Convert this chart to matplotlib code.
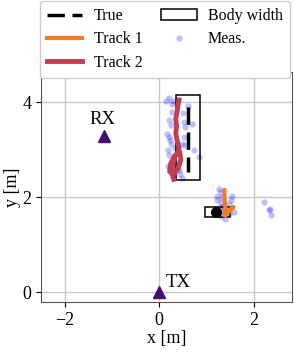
import numpy as np
import matplotlib
matplotlib.use("Agg")
import matplotlib.pyplot as plt
from matplotlib.patches import Rectangle

plt.rcParams["font.family"] = ["Liberation Serif", "DejaVu Serif"]
plt.rcParams["font.size"] = 13

# antennas
tx = (0.0, 0.0)
rx = (-1.17, 3.3)

# true target 1 (walking) and target 2 (standing)
true1_x = [0.62, 0.62]
true1_y = [3.9, 2.53]
true2 = (1.2, 1.69)

# body width boxes: (x0, y0, w, h)
body1 = (0.35, 2.37, 0.52, 1.78)
body2 = (0.96, 1.58, 0.53, 0.21)

# tracks
track1_x = [1.38, 1.38, 1.39, 1.40, 1.38, 1.40, 1.50, 1.57, 1.48, 1.42, 1.40]
track1_y = [2.15, 2.02, 1.90, 1.78, 1.68, 1.64, 1.72, 1.80, 1.73, 1.68, 1.62]

track2_x = [0.42, 0.40, 0.38, 0.35, 0.37, 0.35, 0.38, 0.42, 0.40, 0.31, 0.24,
            0.22, 0.29, 0.40, 0.46, 0.43, 0.34, 0.29, 0.27, 0.31]
track2_y = [4.05, 3.95, 3.80, 3.65, 3.50, 3.35, 3.20, 3.05, 2.95, 2.85, 2.70,
            2.55, 2.48, 2.60, 2.80, 2.97, 2.88, 2.72, 2.52, 2.38]

# radar measurements
meas_x = [0.15, 0.21, 0.27, 0.30, 0.27, 0.62, 0.20, 0.25, 0.50, 0.70, 0.16,
          0.21, 0.52, 0.48, 0.55, 0.73, 0.84, 0.21, 0.18, 0.41, 0.45, 0.30,
          0.48, 0.23, 0.26, 0.52, 0.55, 0.33, 0.19, 0.40,
          1.26, 1.30, 1.23, 1.33, 1.23, 1.31, 1.55, 1.51, 1.47, 1.40, 1.33,
          1.30, 1.40, 1.47, 1.58, 1.36, 1.28,
          2.22, 2.34, 2.33, 2.36]
meas_y = [4.03, 4.10, 3.97, 4.04, 3.80, 3.92, 3.62, 3.52, 3.77, 3.55, 3.34,
          3.27, 3.27, 3.13, 3.10, 2.99, 2.85, 2.89, 2.67, 2.57, 2.50, 2.44,
          2.41, 3.20, 3.13, 3.59, 3.48, 3.05, 3.00, 2.75,
          2.18, 2.11, 2.04, 2.01, 1.94, 1.90, 2.04, 1.94, 1.87, 1.76, 1.69,
          1.62, 1.55, 1.66, 1.69, 1.82, 1.80,
          1.90, 1.76, 1.73, 1.64]

fig = plt.figure(figsize=(2.94, 3.52), dpi=100)
ax = fig.add_axes([41 / 294, 50 / 352, 251 / 294, 230 / 352])

ax.plot(meas_x, meas_y, "o", color="blue", alpha=0.25, markersize=4.5,
        markeredgewidth=0, label="Meas.", zorder=2)

for (x0, y0, w, h), lab in [(body1, "Body width"), (body2, None)]:
    ax.add_patch(Rectangle((x0, y0), w, h, fill=False, edgecolor="black",
                           linewidth=1.1, label=lab, zorder=3))

ax.plot(true1_x, true1_y, "--", color="black", linewidth=2.5,
        dashes=(5, 2.2), label="True", zorder=4)
ax.plot(*true2, "o", color="black", markersize=7, zorder=4)

ax.plot(track1_x, track1_y, color="#f37b21", linewidth=3, label="Track 1",
        zorder=5)
ax.plot(track2_x, track2_y, color="#c23f4f", linewidth=3.5, label="Track 2",
        zorder=5)

ax.plot(*tx, "^", color="#44106f", markersize=9, zorder=6, clip_on=False)
ax.plot(*rx, "^", color="#44106f", markersize=9, zorder=6)
ax.text(0.13, 0.12, "TX", fontsize=13.5)
ax.text(-1.47, 3.54, "RX", fontsize=13.5)

ax.set_xlim(-2.5, 2.81)
ax.set_ylim(-0.2, 4.64)
ax.set_xticks([-2, 0, 2])
ax.set_yticks([0, 2, 4])
ax.grid(True, color="#c8c8c8", linewidth=1)
ax.set_axisbelow(True)
for s in ax.spines.values():
    s.set_color("#555555")
ax.set_xlabel("x [m]", labelpad=1)
ax.set_ylabel("y [m]", labelpad=1)

h, l = ax.get_legend_handles_labels()
order = [l.index(k) for k in ["True", "Track 1", "Track 2", "Body width", "Meas."]]
fig.legend([h[i] for i in order], [l[i] for i in order], ncol=2,
           loc="upper left", mode="expand",
           bbox_to_anchor=(40 / 294, 0, 250 / 294, 1 - 1 / 352),
           borderaxespad=0, frameon=True, fancybox=True, framealpha=1,
           edgecolor="#cccccc", handlelength=2.2, handletextpad=0.7,
           labelspacing=0.45, borderpad=0.45, fontsize=11.5)

fig.savefig("out.png", dpi=100)
